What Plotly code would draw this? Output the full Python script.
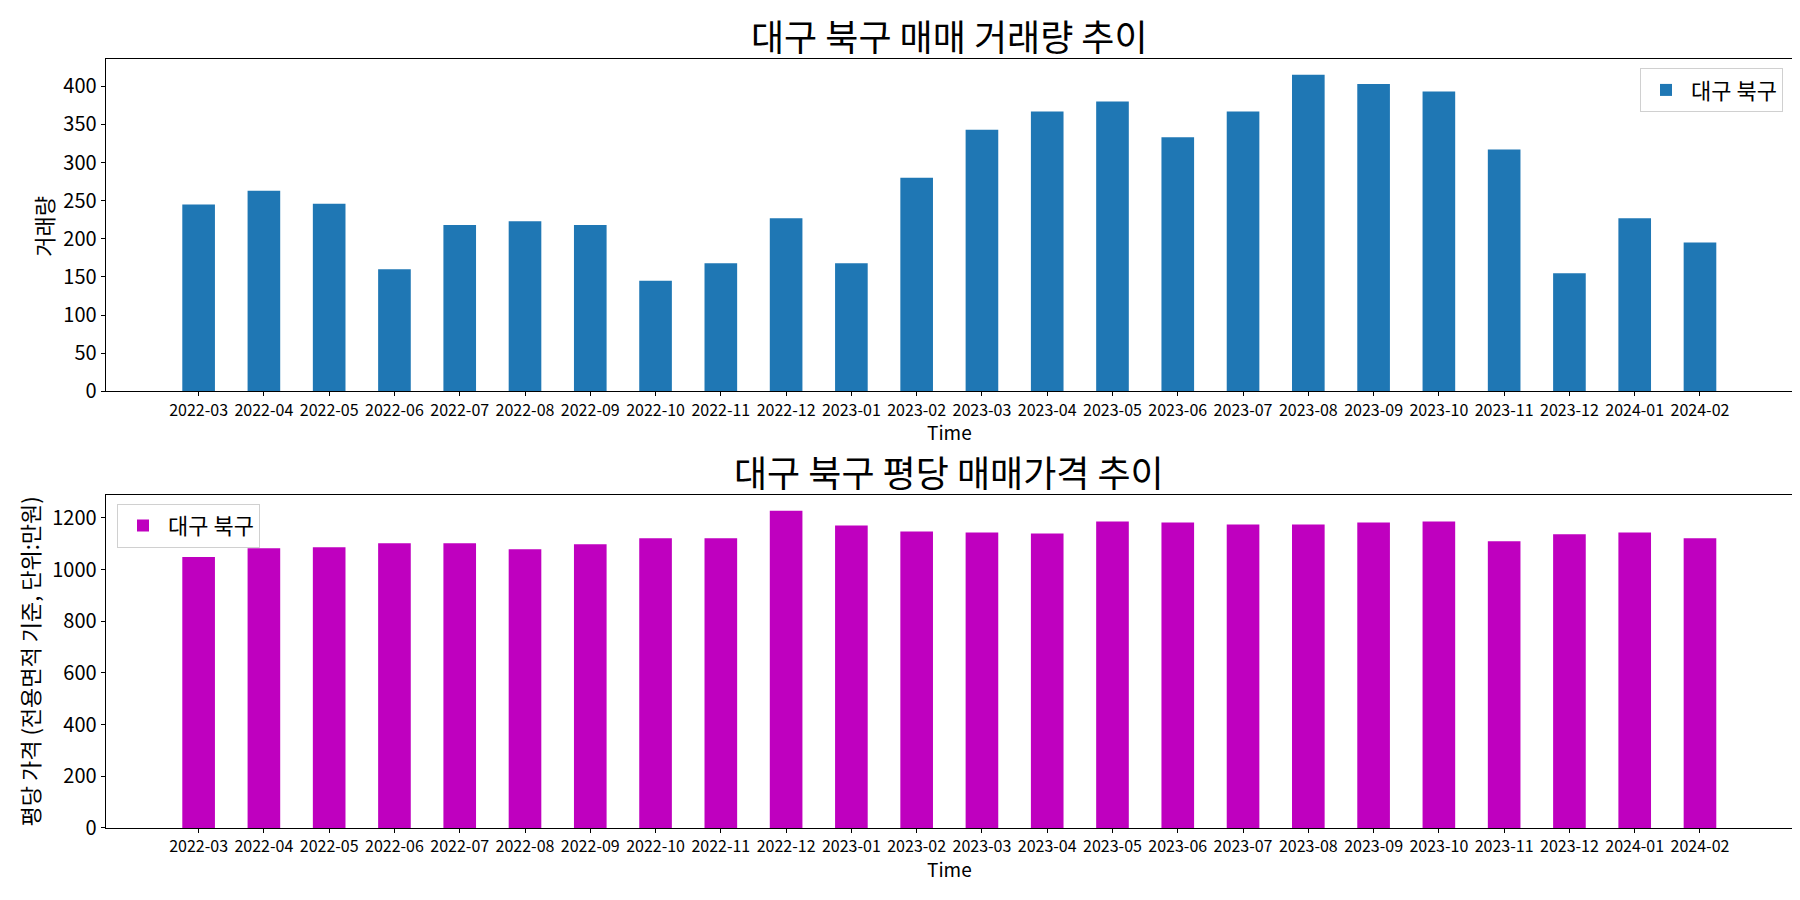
import plotly.graph_objects as go

months = ["2022-03", "2022-04", "2022-05", "2022-06", "2022-07", "2022-08", "2022-09",
          "2022-10", "2022-11", "2022-12", "2023-01", "2023-02", "2023-03", "2023-04",
          "2023-05", "2023-06", "2023-07", "2023-08", "2023-09", "2023-10", "2023-11",
          "2023-12", "2024-01", "2024-02"]
volume = [245, 263, 246, 160, 218, 223, 218, 145, 168, 227, 168, 280,
          343, 367, 380, 333, 367, 415, 403, 393, 317, 155, 227, 195]
price = [1049, 1083, 1087, 1102, 1102, 1079, 1098, 1121, 1121, 1228, 1171, 1148,
         1144, 1140, 1186, 1182, 1175, 1175, 1182, 1186, 1110, 1137, 1144, 1121]

series_name = "대구 북구"
title_top = "대구 북구 매매 거래량 추이"
title_bottom = "대구 북구 평당 매매가격 추이"
ylabel_top = "거래량"
ylabel_bottom = "평당 가격 (전용면적 기준, 단위:만원)"
xlabel = "Time"

FONT = "Noto Sans CJK KR"
W, H = 1800, 900

def px_y(p):
    return 1 - p / H

def px_x(p):
    return p / W

fig = go.Figure()
fig.add_trace(go.Bar(x=months, y=volume, name=series_name, marker_color="#1f77b4",
                     marker_line_width=0, xaxis="x", yaxis="y", legend="legend"))
fig.add_trace(go.Bar(x=months, y=price, name=series_name, marker_color="#bf00bf",
                     marker_line_width=0, xaxis="x2", yaxis="y2", legend="legend2"))

axis_common = dict(showgrid=False, zeroline=False, showline=True, linecolor="black",
                   linewidth=1, mirror=True, ticks="outside", ticklen=4, tickcolor="black")

xdom = [px_x(97.6), px_x(1785)]
xr = [-1.425, len(months) - 1 + 1.425]

fig.update_layout(
    width=W, height=H,
    margin=dict(l=0, r=0, t=0, b=0),
    plot_bgcolor="white", paper_bgcolor="white",
    font=dict(family=FONT, color="black"),
    bargap=0.5,
    xaxis=dict(domain=xdom, anchor="y", type="category", range=xr,
               tickfont=dict(size=16), **axis_common),
    yaxis=dict(domain=[px_y(389), px_y(51.7)], anchor="x", range=[0, 415 * 1.05],
               dtick=50, tickfont=dict(size=20), **axis_common),
    xaxis2=dict(domain=xdom, anchor="y2", type="category", range=xr,
                tickfont=dict(size=16), **axis_common),
    yaxis2=dict(domain=[px_y(832), px_y(494)], anchor="x2", range=[0, 1228 * 1.05],
                dtick=200, tickfont=dict(size=20), **axis_common),
    legend=dict(x=px_x(1775), y=px_y(61), xanchor="right", yanchor="top",
                bgcolor="rgba(255,255,255,0.8)", bordercolor="#d0d0d0", borderwidth=1,
                font=dict(size=22), itemwidth=40),
    legend2=dict(x=px_x(109), y=px_y(503), xanchor="left", yanchor="top",
                 bgcolor="rgba(255,255,255,0.8)", bordercolor="#d0d0d0", borderwidth=1,
                 font=dict(size=22), itemwidth=40),
    showlegend=True,
)

ann = [
    dict(text=title_top, x=0.5 * (xdom[0] + xdom[1]), y=px_y(27), font=dict(size=36)),
    dict(text=title_bottom, x=0.5 * (xdom[0] + xdom[1]), y=px_y(470), font=dict(size=36)),
    dict(text=xlabel, x=0.5 * (xdom[0] + xdom[1]), y=px_y(430), font=dict(size=19)),
    dict(text=xlabel, x=0.5 * (xdom[0] + xdom[1]), y=px_y(873), font=dict(size=19)),
    dict(text=ylabel_top, x=px_x(35), y=px_y(222), font=dict(size=22), textangle=-90),
    dict(text=ylabel_bottom, x=px_x(21), y=px_y(663), font=dict(size=22), textangle=-90),
]
for a in ann:
    fig.add_annotation(xref="paper", yref="paper", showarrow=False,
                       xanchor="center", yanchor="middle", **a)

fig.write_html("out.html")
